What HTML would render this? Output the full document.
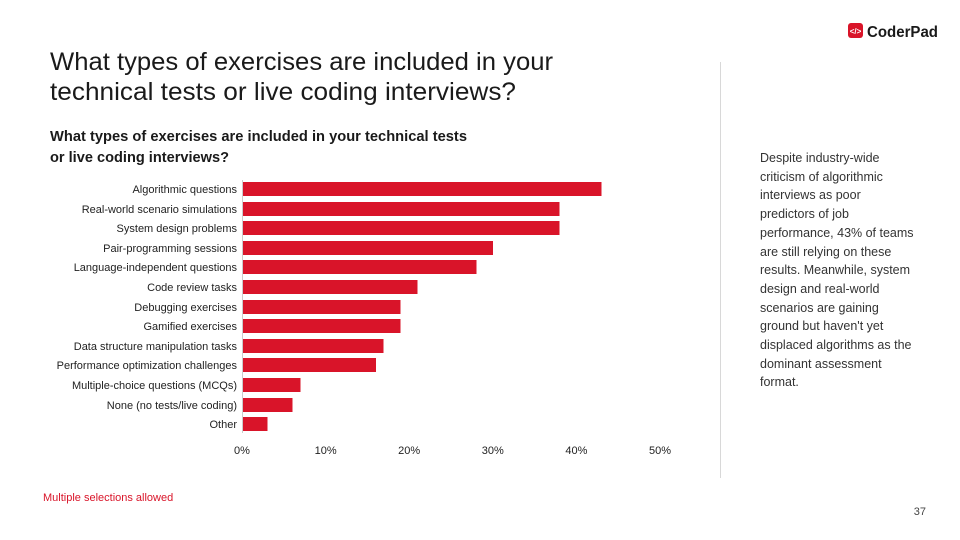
<!DOCTYPE html>
<html><head><meta charset="utf-8"><style>
html,body{margin:0;padding:0;background:#fff;}
svg{display:block;font-family:"Liberation Sans",sans-serif;}
</style></head><body>
<svg width="960" height="540" viewBox="0 0 960 540" xmlns="http://www.w3.org/2000/svg">
<rect width="960" height="540" fill="#fff"/>
<!-- logo -->
<rect x="848" y="23" width="15" height="15" rx="3" fill="#d91429"/>
<text x="855.5" y="34" font-size="8" fill="#fff" text-anchor="middle" font-weight="bold">&lt;/&gt;</text>
<text x="867" y="37" font-size="16" font-weight="bold" fill="#1a1a1a" textLength="71" lengthAdjust="spacingAndGlyphs">CoderPad</text>
<!-- title -->
<text x="50" y="70" font-size="25" fill="#1a1a1a" textLength="503" lengthAdjust="spacingAndGlyphs">What types of exercises are included in your</text>
<text x="50" y="100" font-size="25" fill="#1a1a1a" textLength="466" lengthAdjust="spacingAndGlyphs">technical tests or live coding interviews?</text>
<text x="50" y="141" font-size="15" font-weight="bold" fill="#1a1a1a" textLength="417" lengthAdjust="spacingAndGlyphs">What types of exercises are included in your technical tests</text>
<text x="50" y="162" font-size="15" font-weight="bold" fill="#1a1a1a" textLength="179" lengthAdjust="spacingAndGlyphs">or live coding interviews?</text>
<!-- separator -->
<line x1="720.5" y1="62" x2="720.5" y2="478" stroke="#d8d8d8" stroke-width="1"/>
<!-- right text -->
<g font-size="12.5" fill="#333">
<text x="760" y="162">Despite industry-wide</text>
<text x="760" y="181">criticism of algorithmic</text>
<text x="760" y="199">interviews as poor</text>
<text x="760" y="218">predictors of job</text>
<text x="760" y="237">performance, 43% of teams</text>
<text x="760" y="256">are still relying on these</text>
<text x="760" y="274">results. Meanwhile, system</text>
<text x="760" y="293">design and real-world</text>
<text x="760" y="312">scenarios are gaining</text>
<text x="760" y="330">ground but haven't yet</text>
<text x="760" y="349">displaced algorithms as the</text>
<text x="760" y="368">dominant assessment</text>
<text x="760" y="386">format.</text>
</g>
<!-- axis -->
<line x1="242.5" y1="180" x2="242.5" y2="433" stroke="#ccc" stroke-width="1"/>
<g fill="#d91429">
<rect x="243" y="182" width="358.5" height="14"/>
<rect x="243" y="202" width="316.5" height="14"/>
<rect x="243" y="221" width="316.5" height="14"/>
<rect x="243" y="241" width="250" height="14"/>
<rect x="243" y="260" width="233.5" height="14"/>
<rect x="243" y="280" width="174.5" height="14"/>
<rect x="243" y="300" width="157.5" height="14"/>
<rect x="243" y="319" width="157.5" height="14"/>
<rect x="243" y="339" width="140.5" height="14"/>
<rect x="243" y="358" width="133" height="14"/>
<rect x="243" y="378" width="57.5" height="14"/>
<rect x="243" y="398" width="49.5" height="14"/>
<rect x="243" y="417" width="24.5" height="14"/>
</g>
<g font-size="11" fill="#222" text-anchor="end">
<text x="237" y="193">Algorithmic questions</text>
<text x="237" y="213">Real-world scenario simulations</text>
<text x="237" y="232">System design problems</text>
<text x="237" y="252">Pair-programming sessions</text>
<text x="237" y="271">Language-independent questions</text>
<text x="237" y="291">Code review tasks</text>
<text x="237" y="311">Debugging exercises</text>
<text x="237" y="330">Gamified exercises</text>
<text x="237" y="350">Data structure manipulation tasks</text>
<text x="237" y="369">Performance optimization challenges</text>
<text x="237" y="389">Multiple-choice questions (MCQs)</text>
<text x="237" y="409">None (no tests/live coding)</text>
<text x="237" y="428">Other</text>
</g>
<g font-size="11" fill="#222" text-anchor="middle">
<text x="242" y="454">0%</text>
<text x="325.6" y="454">10%</text>
<text x="409.2" y="454">20%</text>
<text x="492.8" y="454">30%</text>
<text x="576.4" y="454">40%</text>
<text x="660" y="454">50%</text>
</g>
<text x="43" y="501" font-size="11" fill="#d91429">Multiple selections allowed</text>
<text x="926" y="515" font-size="11" fill="#444" text-anchor="end">37</text>
</svg>
</body></html>
